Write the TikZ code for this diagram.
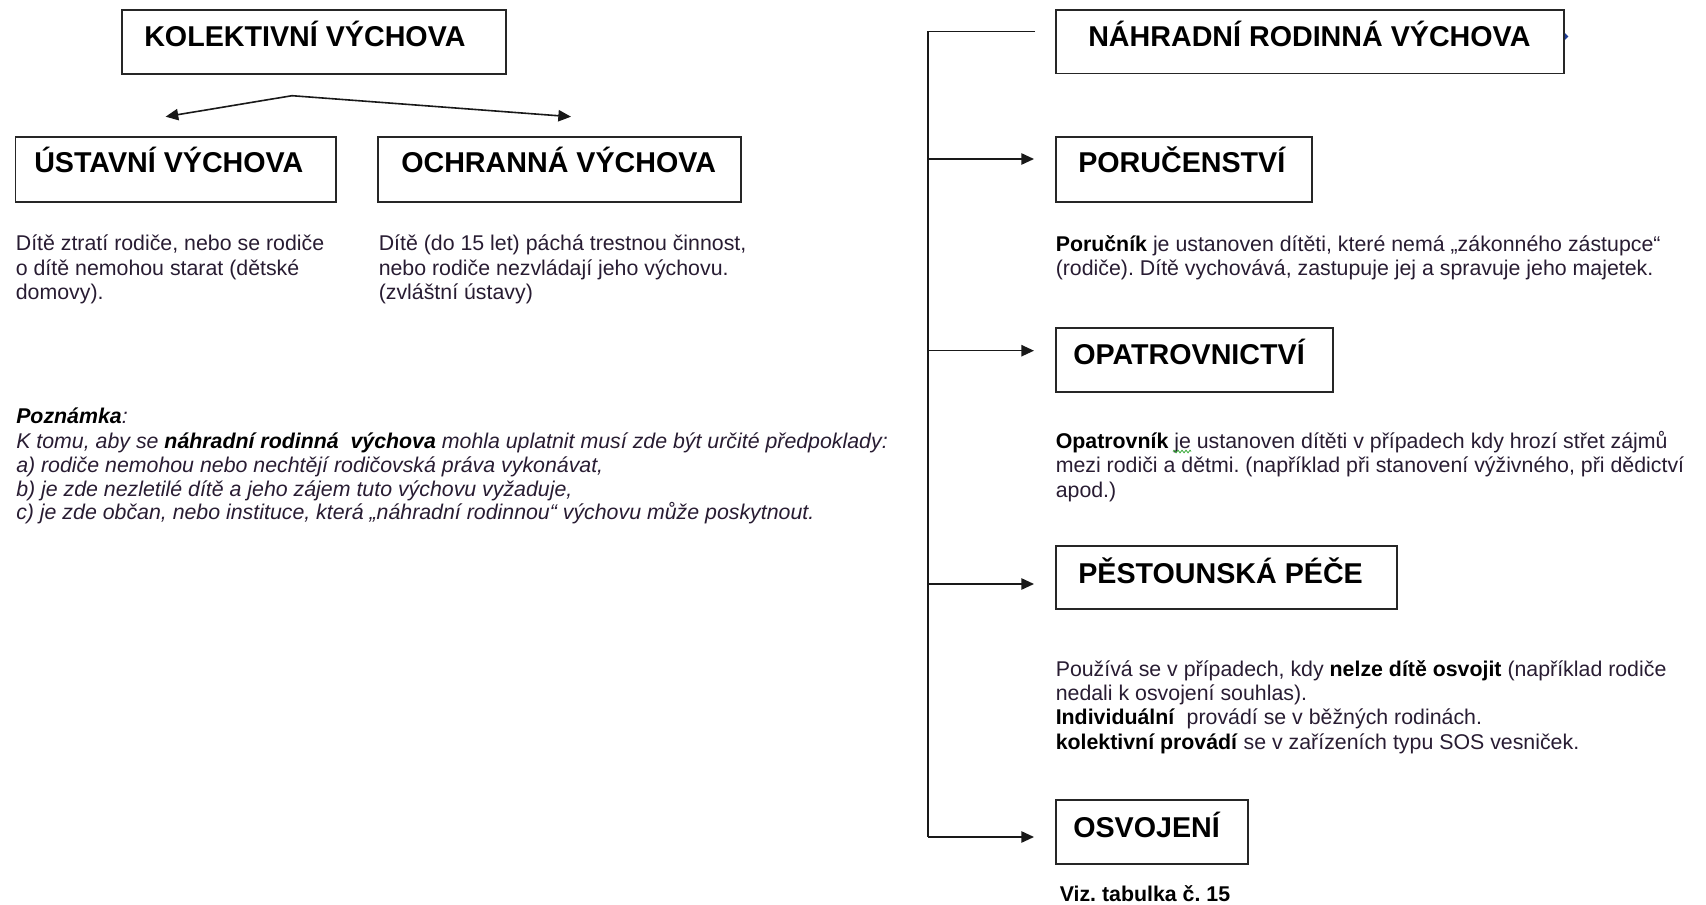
\documentclass[tikz,border=0pt]{standalone}
\usepackage{fontspec}
\setmainfont{Liberation Sans}
\usetikzlibrary{arrows.meta,fit,decorations.pathmorphing}
\definecolor{bodytxt}{RGB}{40,28,50}
\definecolor{spellgreen}{RGB}{60,170,60}
\definecolor{markblue}{RGB}{30,60,150}
\newcommand\blk[1]{\textcolor{black}{\textbf{#1}}}
\frenchspacing
\begin{document}
\begin{tikzpicture}[x=0.75pt,y=-0.75pt,
  box/.style={draw=black!85, line width=1.3pt, inner sep=0pt, fit={#1}},
  title/.style={anchor=base west, inner sep=0pt, text=black, font=\fontsize{21.5}{26}\selectfont\bfseries},
  body/.style={anchor=base west, inner sep=0pt, text=bodytxt, font=\fontsize{16}{19}\selectfont},
  note/.style={anchor=base west, inner sep=0pt, text=bodytxt, font=\fontsize{16}{19}\selectfont\itshape},
  link/.style={draw=black!90, line width=1.2pt},
  arr/.style={link, -{Triangle[length=9.5pt,width=8.5pt]}}]
\useasboundingbox (0,0) rectangle (1706,905);

% ---------- left part ----------
\node[box={(122,10) (506,74)}] (kol) {};
\node[title] (kolT) at (144,46.7) {KOLEKTIVNÍ VÝCHOVA};
\node[box={(15.6,136.7) (336,201.7)}] (ust) {};
\node[title] (ustT) at (34,173) {ÚSTAVNÍ VÝCHOVA};
\node[box={(378,136.7) (741,201.7)}] (och) {};
\node[title] (ochT) at (401,173) {OCHRANNÁ VÝCHOVA};

\coordinate (apex) at (292,95.7);
\coordinate (tipU) at (165.6,116.7);
\coordinate (tipO) at (571,116.7);
\draw[arr] (apex) -- (tipU);
\draw[arr] (apex) -- (tipO);

\node[body] (u1) at (15.6,251) {Dítě ztratí rodiče, nebo se rodiče};
\node[body] (u2) at (15.6,275.5) {o dítě nemohou starat (dětské};
\node[body] (u3) at (15.6,300) {domovy).};

\node[body] (o1) at (378.5,251) {Dítě (do 15 let) páchá trestnou činnost,};
\node[body] (o2) at (378.5,275.5) {nebo rodiče nezvládají jeho výchovu.};
\node[body] (o3) at (378.5,300) {(zvláštní ústavy)};

\node[note] (p0) at (16,424) {\textcolor{black}{\textbf{Poznámka}}:};
\node[note] (p1) at (16,448) {K tomu, aby se \blk{náhradní rodinná\ \ výchova} mohla uplatnit musí zde být určité předpoklady:};
\node[note] (p2) at (16,472) {a) rodiče nemohou nebo nechtějí rodičovská práva vykonávat,};
\node[note] (p3) at (16,496) {b) je zde nezletilé dítě a jeho zájem tuto výchovu vyžaduje,};
\node[note] (p4) at (16,519.5) {c) je zde občan, nebo instituce, která „náhradní rodinnou“ výchovu může poskytnout.};

% ---------- right part ----------
\node[box={(1056,10) (1564,73.5)}] (nah) {};
\node[title] (nahT) at (1088,46.7) {NÁHRADNÍ RODINNÁ VÝCHOVA};
\fill[markblue] (nah.east |- 0,33) -- ++(3.5,3.5) -- ++(-3.5,3.5) -- cycle;
\node[box={(1056,137) (1312,202)}] (por) {};
\node[title] (porT) at (1078,173) {PORUČENSTVÍ};
\node[box={(1056,328) (1333,392)}] (opa) {};
\node[title] (opaT) at (1073,364.5) {OPATROVNICTVÍ};
\node[box={(1056,546) (1397,609)}] (pes) {};
\node[title] (pesT) at (1078,583) {PĚSTOUNSKÁ PÉČE};
\node[box={(1056,800) (1248,864)}] (osv) {};
\node[title] (osvT) at (1073,837) {OSVOJENÍ};

\coordinate (nEnd) at (1035,31.7);
\coordinate (sTop) at (927.7,31.7);
\coordinate (sPor) at (927.7,159);
\coordinate (sOpa) at (927.7,350.7);
\coordinate (sPes) at (927.7,584);
\coordinate (sOsv) at (927.7,837);
\coordinate (tPor) at (1034,159);
\coordinate (tOpa) at (1034,350.7);
\coordinate (tPes) at (1034,584);
\coordinate (tOsv) at (1034,837);
\draw[link] (nEnd) -- (sTop) -- (sOsv);
\draw[arr] (sPor) -- (tPor);
\draw[arr] (sOpa) -- (tOpa);
\draw[arr] (sPes) -- (tPes);
\draw[arr] (sOsv) -- (tOsv);

\node[body] (r1) at (1055.5,251.7) {\blk{Poručník} je ustanoven dítěti, které nemá „zákonného zástupce“};
\node[body] (r2) at (1055.5,276) {(rodiče). Dítě vychovává, zastupuje jej a spravuje jeho majetek.};

\node[body] (a1) at (1055.5,448) {\blk{Opatrovník} je ustanoven dítěti v případech kdy hrozí střet zájmů};
\node[body] (a2) at (1055.5,472.5) {mezi rodiči a dětmi. (například při stanovení výživného, při dědictví};
\node[body] (a3) at (1055.5,497) {apod.)};
\coordinate (sq1) at (1173,451.5);
\coordinate (sq2) at (1191,451.5);
\draw[spellgreen, line width=0.6pt, decorate, decoration={zigzag, amplitude=1pt, segment length=3pt}] (sq1) -- (sq2);

\node[body] (e1) at (1055.5,676) {Používá se v případech, kdy \blk{nelze dítě osvojit} (například rodiče};
\node[body] (e2) at (1055.5,700) {nedali k osvojení souhlas).};
\node[body] (e3) at (1055.5,724.5) {\blk{Individuální}\ \ provádí se v běžných rodinách.};
\node[body] (e4) at (1055.5,749) {\blk{kolektivní provádí} se v zařízeních typu SOS vesniček.};

\node[body, text=black, font=\fontsize{16}{19}\selectfont\bfseries] (viz) at (1059.5,901) {Viz. tabulka č. 15};
\end{tikzpicture}
\end{document}
